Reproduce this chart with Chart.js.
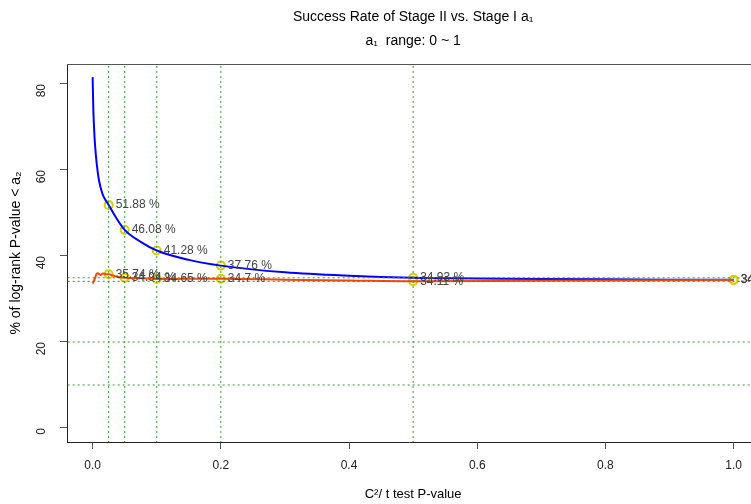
<!DOCTYPE html>
<html>
<head>
<meta charset="utf-8">
<script src="https://cdn.jsdelivr.net/npm/chart.js@4.4.1/dist/chart.umd.min.js"></script>
<style>
  html, body { margin: 0; padding: 0; background: #fff; overflow: hidden; }
  #wrap { width: 751px; height: 504px; }
</style>
</head>
<body>
<div id="wrap"><canvas id="chart" width="751" height="504"></canvas></div>
<script>
// curve of stage II success rate (blue) and second curve (orange)
const blueX = [0, 0.001, 0.002, 0.003, 0.005, 0.0075, 0.01, 0.015, 0.02, 0.025, 0.035, 0.05, 0.075, 0.1, 0.15, 0.2, 0.3, 0.4, 0.5, 0.6, 0.7, 0.8, 0.9, 1.0];
const blueY = [81.6, 74.5, 70.5, 67.5, 63.5, 60, 57.5, 54.6, 53, 51.88, 49.3, 46.08, 43.3, 41.28, 39.1, 37.76, 36.2, 35.4, 34.93, 34.78, 34.66, 34.57, 34.5, 34.45];
const orangeX = [0, 0.002, 0.004, 0.006, 0.008, 0.012, 0.016, 0.02, 0.025, 0.035, 0.05, 0.075, 0.1, 0.15, 0.2, 0.3, 0.4, 0.5, 0.7, 1.0];
const orangeY = [33.6, 34.2, 35.0, 35.8, 36.0, 35.6, 35.9, 35.8, 35.74, 35.3, 34.94, 34.8, 34.65, 34.7, 34.7, 34.5, 34.3, 34.11, 34.25, 34.4];

// highlighted cut-offs and their values
const cutX = [0.025, 0.05, 0.1, 0.2, 0.5, 1.0];
const blueCut = [51.88, 46.08, 41.28, 37.76, 34.93, 34.45];
const orangeCut = [35.74, 34.94, 34.65, 34.7, 34.11, 34.4];

// reference lines
const refX = [0.025, 0.05, 0.1, 0.2, 0.5];
const refY = [10, 20, 34.93];
const refYGray = [34.11];

const xTicks = [0, 0.2, 0.4, 0.6, 0.8, 1.0];
const yTicks = [0, 20, 40, 60, 80];

const FONT = "'Liberation Sans', Arial, Helvetica, sans-serif";
const GREEN = '#2ea02e';

class StageChart {
    constructor() {
        this.chart = null;
        this.init();
    }

    pts(xs, ys) {
        return xs.map((x, i) => ({ x: x, y: ys[i] }));
    }

    refDatasets() {
        const sets = [];
        refX.forEach(v => sets.push({
            data: [{ x: v, y: -100 }, { x: v, y: 200 }],
            borderColor: GREEN, borderWidth: 1, borderDash: [2, 3], pointRadius: 0
        }));
        refY.forEach(v => sets.push({
            data: [{ x: -5, y: v }, { x: 5, y: v }],
            borderColor: GREEN, borderWidth: 1, borderDash: [2, 3], pointRadius: 0
        }));
        refYGray.forEach(v => sets.push({
            data: [{ x: -5, y: v }, { x: 5, y: v }],
            borderColor: '#666', borderWidth: 1, borderDash: [2, 3], pointRadius: 0
        }));
        return sets;
    }

    init() {
        const ctx = document.getElementById('chart').getContext('2d');
        Chart.defaults.font.family = FONT;
        Chart.defaults.font.size = 12;
        Chart.defaults.color = '#222';

        const datasets = this.refDatasets().concat([
            {
                data: this.pts(orangeX, orangeY),
                borderColor: '#ff4500', borderWidth: 2, pointRadius: 0, cubicInterpolationMode: 'monotone'
            },
            {
                data: this.pts(blueX, blueY),
                borderColor: '#0000ff', borderWidth: 2, pointRadius: 0, cubicInterpolationMode: 'monotone'
            },
            {
                label: 'blueCut',
                data: this.pts(cutX, blueCut),
                showLine: false, pointRadius: 4, pointBorderWidth: 2,
                pointBorderColor: '#d2d200', pointBackgroundColor: 'rgba(0,0,0,0)', clip: false
            },
            {
                label: 'orangeCut',
                data: this.pts(cutX, orangeCut),
                showLine: false, pointRadius: 4, pointBorderWidth: 2,
                pointBorderColor: '#d2d200', pointBackgroundColor: 'rgba(0,0,0,0)', clip: false
            }
        ]);

        const decor = {
            id: 'decor',
            afterDatasetsDraw(chart) {
                const c = chart.ctx;
                const a = chart.chartArea;
                const xs = chart.scales.x;
                // top edge of the box
                c.save();
                c.strokeStyle = '#555';
                c.lineWidth = 1;
                c.beginPath();
                c.moveTo(a.left, a.top + 0.5);
                c.lineTo(a.right, a.top + 0.5);
                c.stroke();

                // value labels next to the marked points
                c.font = '12px ' + FONT;
                c.fillStyle = '#444';
                c.textAlign = 'left';
                c.textBaseline = 'middle';
                chart.data.datasets.forEach((ds, di) => {
                    if (ds.label !== 'blueCut' && ds.label !== 'orangeCut') return;
                    const meta = chart.getDatasetMeta(di);
                    meta.data.forEach((p, i) => {
                        c.fillText(ds.data[i].y + ' %', p.x + 7, p.y);
                    });
                });

                // titles
                const cx = xs.getPixelForValue(0.5);
                c.fillStyle = '#000';
                c.textAlign = 'center';
                c.font = '14px ' + FONT;
                c.fillText('Success Rate of Stage II vs. Stage I a\u2081', cx, 17);
                c.fillText('a\u2081  range: 0 ~ 1', cx, 41);
                c.font = '13px ' + FONT;
                c.fillText('C\u00b2/ t test P-value', cx, 494);
                c.translate(16, (a.top + a.bottom) / 2);
                c.rotate(-Math.PI / 2);
                c.font = '14px ' + FONT;
                c.fillText('% of log-rank P-value < a\u2082', 0, 0);
                c.restore();
            }
        };

        this.chart = new Chart(ctx, {
            type: 'line',
            data: { datasets: datasets },
            options: {
                responsive: false,
                animation: false,
                layout: { autoPadding: false, padding: { top: 64, left: 0, right: 0, bottom: 0 } },
                plugins: { legend: { display: false }, tooltip: { enabled: false } },
                scales: {
                    x: {
                        type: 'linear',
                        min: -0.04,
                        max: 1.0271,
                        afterBuildTicks: s => { s.ticks = xTicks.map(v => ({ value: v })); },
                        afterFit: s => {
                            s.height = 62;
                            s.paddingLeft = 0;
                            s.paddingRight = 0;
                        },
                        ticks: {
                            callback: v => v.toFixed(1),
                            color: '#222', padding: 9, maxRotation: 0, autoSkip: false
                        },
                        grid: { drawOnChartArea: false, drawTicks: true, tickLength: 7, color: '#555' },
                        border: { display: true, color: '#222', width: 1 }
                    },
                    y: {
                        type: 'linear',
                        min: -3.26,
                        max: 84.65,
                        afterBuildTicks: s => { s.ticks = yTicks.map(v => ({ value: v })); },
                        afterFit: s => {
                            s.width = 67;
                            s.paddingTop = 0;
                            s.paddingBottom = 0;
                        },
                        ticks: {
                            color: '#222', padding: 18, minRotation: 90, maxRotation: 90, autoSkip: false
                        },
                        grid: { drawOnChartArea: false, drawTicks: true, tickLength: 7, color: '#555' },
                        border: { display: true, color: '#222', width: 1 }
                    }
                }
            },
            plugins: [decor]
        });
    }
}

document.addEventListener('DOMContentLoaded', () => {
    new StageChart();
});
</script>
</body>
</html>
